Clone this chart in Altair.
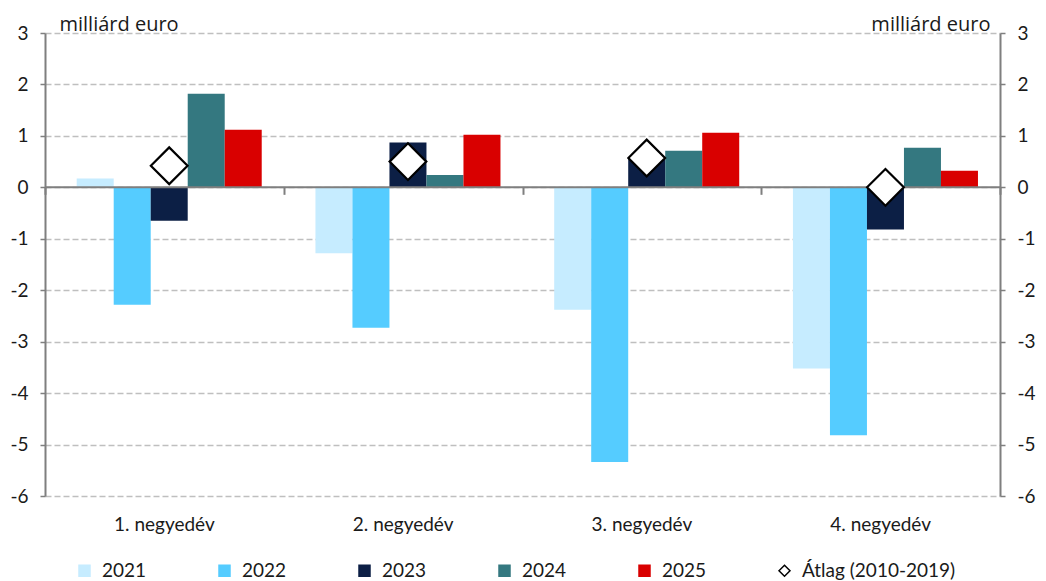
import altair as alt
import pandas as pd

quarters = ["1. negyedév", "2. negyedév", "3. negyedév", "4. negyedév"]
years = ["2021", "2022", "2023", "2024", "2025"]
v2021 = [0.17, -1.28, -2.38, -3.52]
v2022 = [-2.28, -2.73, -5.34, -4.82]
v2023 = [-0.65, 0.87, 0.56, -0.82]
v2024 = [1.82, 0.24, 0.71, 0.77]
v2025 = [1.12, 1.02, 1.06, 0.32]
avg = [0.42, 0.50, 0.57, 0.0]
avg_label = "Átlag (2010-2019)"
avg_slot = "2023"  # the average marker sits over the middle (2023) bar
y_ticks = [-6, -5, -4, -3, -2, -1, 0, 1, 2, 3]
unit = "milliárd euro"

colors = ["#C6ECFF", "#55CCFF", "#0C1F45", "#347880", "#D90000"]

series_vals = [v2021, v2022, v2023, v2024, v2025]
rows = []
for yr, vals in zip(years, series_vals):
    for q, v in zip(quarters, vals):
        rows.append({"quarter": q, "series": yr, "slot": yr, "value": v})
df_bars = pd.DataFrame(rows)
df_avg = pd.DataFrame({"quarter": quarters, "series": [avg_label] * 4,
                       "slot": [avg_slot] * 4, "value": avg})
df_zero = pd.DataFrame({"value": [0]})

W, H = 955, 463
domain_all = years + [avg_label]
FONT = "Lato"
GRAY = "#7F7F7F"
TXT = "#1a1a1a"

xscale = alt.Scale(domain=quarters, paddingInner=0, paddingOuter=0)
offscale = alt.Scale(domain=years, paddingInner=0, paddingOuter=0.726, align=0.59)
yscale = alt.Scale(domain=[-6, 3], nice=False)

color_enc = alt.Color("series:N", scale=alt.Scale(domain=domain_all, range=colors + ["white"]))
stroke_enc = alt.Stroke("series:N", scale=alt.Scale(domain=domain_all, range=colors + ["black"]))
shape_enc = alt.Shape("series:N", scale=alt.Scale(domain=domain_all, range=["square"] * 5 + ["diamond"]))

bars = alt.Chart(df_bars).mark_bar(strokeWidth=0).encode(
    x=alt.X("quarter:N", scale=xscale, title=None,
            axis=alt.Axis(orient="bottom", domain=False, ticks=False, grid=False, labelAngle=0,
                          labelFontSize=19, labelFont=FONT, labelColor=TXT, labelPadding=19)),
    xOffset=alt.XOffset("slot:N", scale=offscale),
    y=alt.Y("value:Q", scale=yscale,
            axis=alt.Axis(values=y_ticks, orient="left", grid=True, gridDash=[6, 3],
                          gridColor="#BFBFBF", gridWidth=1.5, domainColor=GRAY, domainWidth=2,
                          tickColor=GRAY, tickWidth=1.5, tickSize=5,
                          labelExpr="'' + datum.value",
                          labelFontSize=19, labelFont=FONT, labelColor=TXT, labelPadding=12,
                          title=unit, titleAngle=0, titleAlign="left", titleBaseline="alphabetic",
                          titleX=14, titleY=-3, titleFont="Open Sans", titleFontSize=20,
                          titleFontWeight="normal", titleColor=TXT)),
    color=color_enc,
)

zero = alt.Chart(df_zero).mark_rule(color=GRAY, strokeWidth=2).encode(
    y=alt.Y("value:Q", scale=yscale, axis=None)
)

points = alt.Chart(df_avg).mark_point(filled=True, size=1350, strokeWidth=2.2, opacity=1).encode(
    x=alt.X("quarter:N", scale=xscale, title=None,
            axis=alt.Axis(orient="bottom", domain=False, labels=False, grid=False, ticks=True,
                          tickBand="extent", tickSize=7, tickColor=GRAY, tickWidth=2,
                          offset=-(2 * H / 3))),
    xOffset=alt.XOffset("slot:N", scale=offscale),
    y=alt.Y("value:Q", scale=yscale,
            axis=alt.Axis(values=y_ticks, orient="right", grid=False, domainColor=GRAY, domainWidth=2,
                          tickColor=GRAY, tickWidth=1.5, tickSize=5,
                          labelExpr="'' + datum.value",
                          labelFontSize=19, labelFont=FONT, labelColor=TXT, labelPadding=12,
                          title=unit, titleAngle=0, titleAlign="right", titleBaseline="alphabetic",
                          titleX=-10, titleY=-3, titleFont="Open Sans", titleFontSize=20,
                          titleFontWeight="normal", titleColor=TXT)),
    color=color_enc,
    stroke=stroke_enc,
    shape=shape_enc,
)

chart = alt.layer(bars, zero, points).resolve_axis(
    x="independent", y="independent"
).properties(
    width=W, height=H,
    autosize=alt.AutoSizeParams(type="none"),
    padding={"left": 37, "top": 25, "right": 36, "bottom": 84},
).configure_view(stroke=None).configure_legend(
    orient="none", legendX=30, legendY=H + 65, direction="horizontal", title=None,
    columnPadding=68, symbolSize=121, labelFontSize=19, labelFont=FONT, labelColor=TXT,
    labelOffset=8, symbolStrokeWidth=1.5,
)

chart.save("out.html", embed_options={"renderer": "svg", "actions": False})
